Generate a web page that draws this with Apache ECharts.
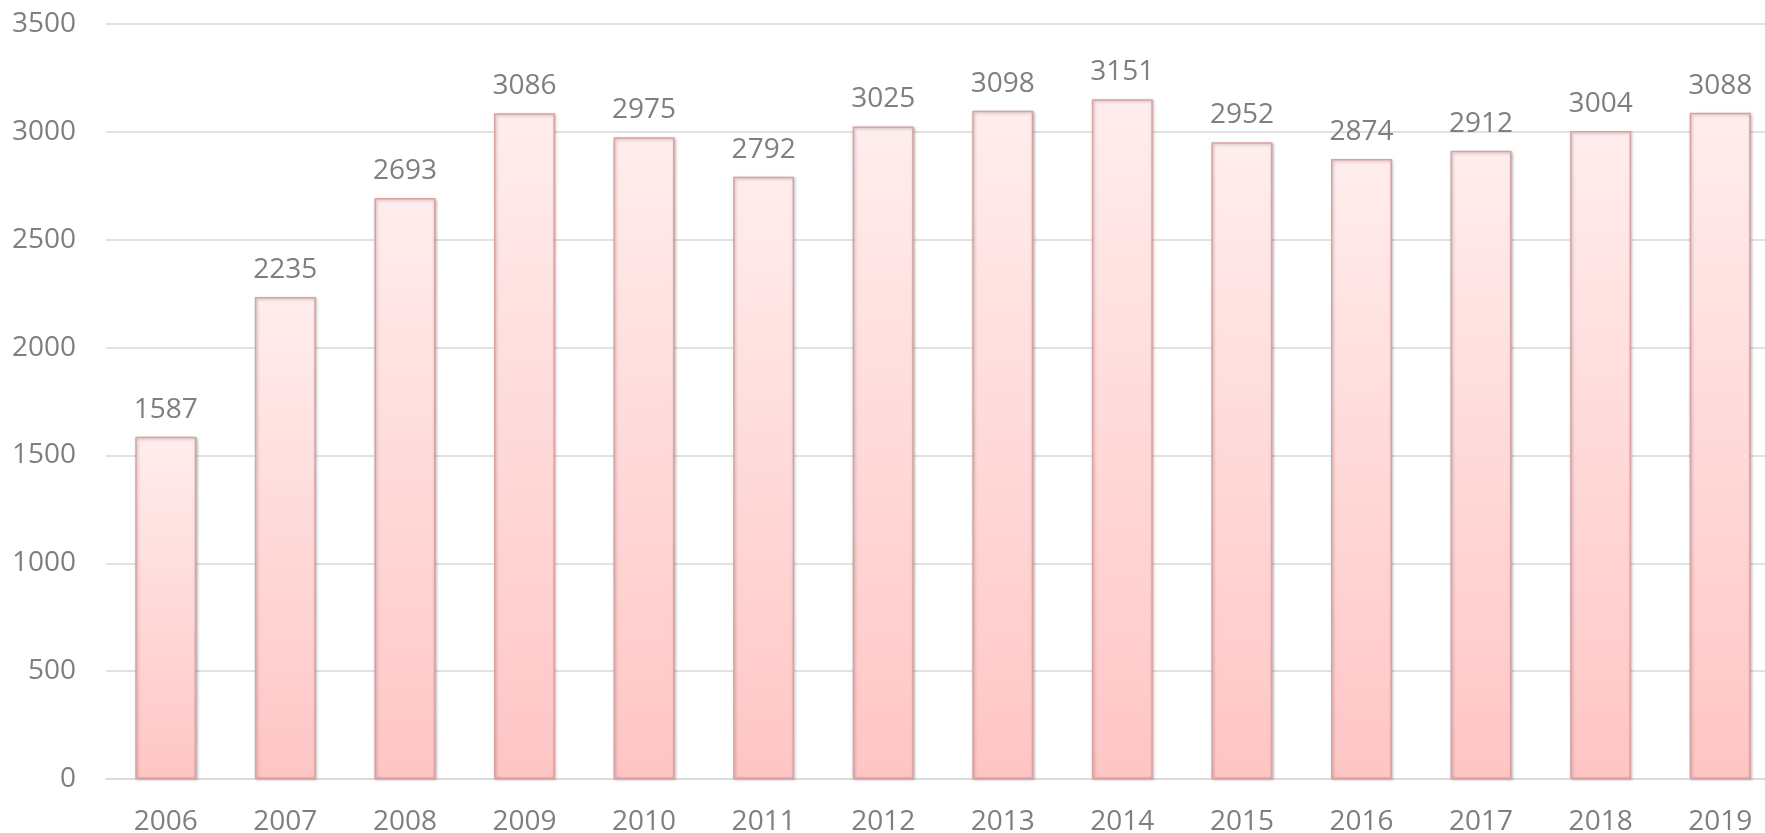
<!DOCTYPE html>
<html>
<head>
<meta charset="utf-8">
<script src="https://cdn.jsdelivr.net/npm/echarts@6/dist/echarts.min.js"></script>
<style>
  html, body { margin: 0; padding: 0; background: #fff; }
  #chart { width: 1765px; height: 833px; }
</style>
</head>
<body>
<div id="chart"></div>
<script>
const years = ['2006', '2007', '2008', '2009', '2010', '2011', '2012', '2013', '2014', '2015', '2016', '2017', '2018', '2019'];
const counts = [1587, 2235, 2693, 3086, 2975, 2792, 3025, 3098, 3151, 2952, 2874, 2912, 3004, 3088];

const chart = echarts.init(document.getElementById('chart'));
const textColor = '#7f7f7f';
const font = '"Open Sans", sans-serif';

chart.setOption({
    animation: false,
    grid: {
        left: 106,
        right: -15,
        top: 24,
        bottom: 54,
        outerBoundsMode: 'none'
    },
    xAxis: {
        type: 'category',
        data: years,
        axisTick: { show: false },
        axisLine: { lineStyle: { color: '#d9d9d9', width: 1.5 } },
        axisLabel: {
            color: textColor,
            fontSize: 28,
            fontFamily: font,
            margin: 29
        }
    },
    yAxis: {
        type: 'value',
        min: 0,
        max: 3500,
        interval: 500,
        axisLine: { show: false },
        axisTick: { show: false },
        axisLabel: {
            color: textColor,
            fontSize: 28,
            fontFamily: font,
            margin: 30,
            formatter: (v) => String(v)
        },
        splitLine: { lineStyle: { color: '#d9d9d9', width: 1.5 } }
    },
    series: [{
        type: 'bar',
        data: counts,
        barWidth: '51%',
        itemStyle: {
            color: new echarts.graphic.LinearGradient(0, 0, 0, 1, [
                { offset: 0, color: '#ffeded' },
                { offset: 1, color: '#ffc5c5' }
            ]),
            borderColor: '#d9a1a1',
            borderWidth: 1.5,
            shadowColor: 'rgba(0,0,0,0.25)',
            shadowBlur: 3,
            shadowOffsetX: 1,
            shadowOffsetY: 1
        },
        label: {
            show: true,
            position: 'top',
            distance: 13,
            color: textColor,
            fontSize: 28,
            fontFamily: font
        }
    }]
});
</script>
</body>
</html>
